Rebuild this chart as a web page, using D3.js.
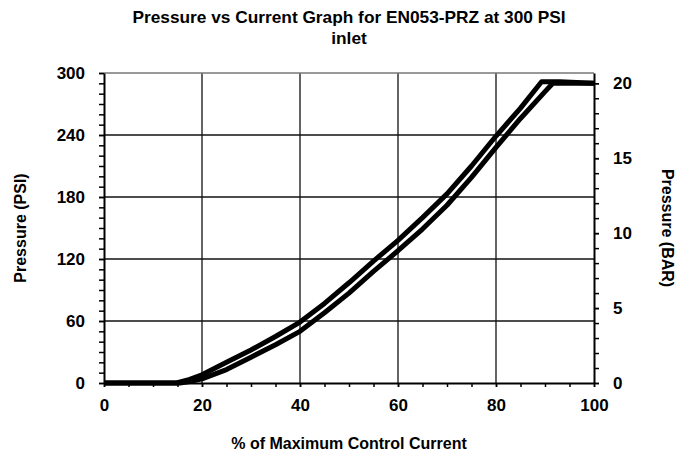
<!DOCTYPE html>
<html>
<head>
<meta charset="utf-8">
<script src="https://cdn.jsdelivr.net/npm/d3@7"></script>
<style>
  body { margin: 0; background: #fff; }
  text { font-family: "Liberation Sans", Arial, sans-serif; font-weight: bold; }
</style>
</head>
<body>
<script>
// Values
var upperX = [0, 14.8, 17.5, 20, 25, 30, 35, 40, 45, 50, 55, 60, 65, 70, 75, 80, 85, 89.3, 93, 100];
var upperY = [0, 0, 3.5, 8, 20, 32, 45, 59, 77, 97, 118, 138, 160, 183, 210, 239, 266, 291.5, 291.5, 290];
var lowerX = [0, 15.5, 17.5, 20, 25, 30, 35, 40, 45, 50, 55, 60, 65, 70, 75, 80, 85, 90, 91.6, 100];
var lowerY = [0, 0, 1.5, 4, 13, 25, 37, 50, 68, 87, 108, 128, 149, 172, 199, 228, 256, 282, 290, 290];

var xTicks = [0, 20, 40, 60, 80, 100];
var psiTicks = [0, 60, 120, 180, 240, 300];
var barTicks = [0, 5, 10, 15, 20];
var PSI_PER_BAR = 14.5038;

var margin = { top: 73, right: 92, bottom: 76, left: 104 },
    width = 686 - margin.left - margin.right,
    height = 459 - margin.top - margin.bottom;

var xScale = d3.scaleLinear().domain([0, 100]).range([0, width]);
var yScale = d3.scaleLinear().domain([0, 300]).range([height, 0]);
var barScale = d3.scaleLinear().domain([0, 300 / PSI_PER_BAR]).range([height, 0]);

var svg = d3.select("body").append("svg")
    .attr("width", 686)
    .attr("height", 459);
var g = svg.append("g")
    .attr("transform", "translate(" + margin.left + "," + margin.top + ")");

// Title
svg.append("text").attr("x", 349).attr("y", 23).attr("text-anchor", "middle")
    .attr("font-size", "17.3px").text("Pressure vs Current Graph for EN053-PRZ at 300 PSI");
svg.append("text").attr("x", 349).attr("y", 44).attr("text-anchor", "middle")
    .attr("font-size", "17.3px").text("inlet");

// Grid lines
g.selectAll(".vgrid").data([20, 40, 60, 80]).enter().append("line")
    .attr("x1", d => xScale(d)).attr("x2", d => xScale(d))
    .attr("y1", 0).attr("y2", height)
    .attr("stroke", "#111").attr("stroke-width", 1.3);
g.selectAll(".hgrid").data([60, 120, 180, 240]).enter().append("line")
    .attr("x1", 0).attr("x2", width)
    .attr("y1", d => yScale(d)).attr("y2", d => yScale(d))
    .attr("stroke", "#111").attr("stroke-width", 1.3);
g.append("line").attr("x1", 0).attr("x2", width)
    .attr("y1", yScale(300)).attr("y2", yScale(300))
    .attr("stroke", "#777").attr("stroke-width", 1.5);

// Minor ticks
g.append("g")
    .call(d3.axisLeft(yScale).tickValues(d3.range(0, 301, 10)).tickSize(5).tickFormat(""))
    .call(a => a.select(".domain").remove())
    .selectAll("line").attr("stroke-width", 1.5);
g.append("g").attr("transform", "translate(" + width + ",0)")
    .call(d3.axisRight(barScale).tickValues(d3.range(0, 21, 1)).tickSize(5).tickFormat(""))
    .call(a => a.select(".domain").remove())
    .selectAll("line").attr("stroke-width", 1.5);
g.append("g").attr("transform", "translate(0," + height + ")")
    .call(d3.axisBottom(xScale).tickValues(d3.range(0, 101, 5)).tickSize(4).tickFormat(""))
    .call(a => a.select(".domain").remove())
    .selectAll("line").attr("stroke-width", 1.5);

// Main axes
function styleAxis(a) {
    a.select(".domain").attr("stroke-width", 2);
    a.selectAll("line").attr("stroke-width", 1.5);
    a.selectAll("text").attr("font-size", "17px").attr("font-family", "Liberation Sans, Arial, sans-serif")
        .attr("font-weight", "bold").attr("fill", "#000");
}
g.append("g")
    .call(d3.axisLeft(yScale).tickValues(psiTicks).tickSize(5).tickSizeOuter(0).tickPadding(14))
    .call(styleAxis);
g.append("g").attr("transform", "translate(" + width + ",0)")
    .call(d3.axisRight(barScale).tickValues(barTicks).tickSize(5).tickSizeOuter(0).tickPadding(14))
    .call(styleAxis);
g.append("g").attr("transform", "translate(0," + height + ")")
    .call(d3.axisBottom(xScale).tickValues(xTicks).tickSize(4).tickSizeOuter(0).tickPadding(12))
    .call(styleAxis);

// Curves
var line = d3.line()
    .x(d => xScale(d[0]))
    .y(d => yScale(d[1]));
[d3.zip(upperX, upperY), d3.zip(lowerX, lowerY)].forEach(function (pts) {
    g.append("path")
        .attr("d", line(pts))
        .attr("fill", "none")
        .attr("stroke", "#000")
        .attr("stroke-width", 5)
        .attr("stroke-linejoin", "round");
});

// Axis titles
svg.append("text").attr("x", 349).attr("y", 449).attr("text-anchor", "middle")
    .attr("font-size", "16px").text("% of Maximum Control Current");
svg.append("text").attr("transform", "translate(26,228) rotate(-90)")
    .attr("text-anchor", "middle").attr("font-size", "16px").text("Pressure (PSI)");
svg.append("text").attr("transform", "translate(662,228) rotate(90)")
    .attr("text-anchor", "middle").attr("font-size", "16px").text("Pressure (BAR)");
</script>
</body>
</html>
